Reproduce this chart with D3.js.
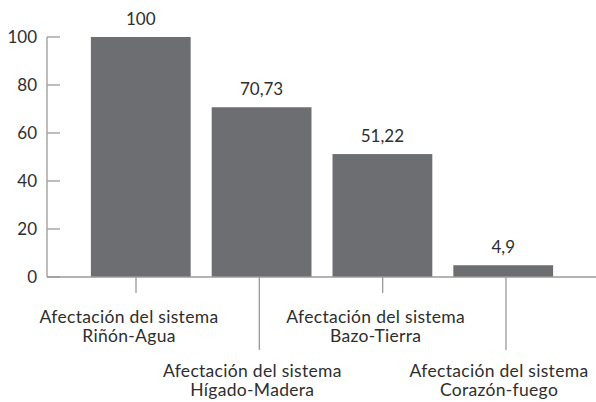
<!DOCTYPE html>
<html>
<head>
<meta charset="utf-8">
<script src="https://cdn.jsdelivr.net/npm/d3@7"></script>
<style>
  html, body { margin: 0; padding: 0; background: #fff; }
  svg text { font-family: Lato, "Open Sans", sans-serif; fill: #2e2e2e; }
</style>
</head>
<body>
<svg id="chart" width="596" height="402"></svg>
<script>
// Categories (two-line labels) and their values
const categories = [
  ["Afectación del sistema", "Riñón-Agua"],
  ["Afectación del sistema", "Hígado-Madera"],
  ["Afectación del sistema", "Bazo-Tierra"],
  ["Afectación del sistema", "Corazón-fuego"]
];
const values = [100, 70.73, 51.22, 4.9];
const valueLabels = ["100", "70,73", "51,22", "4,9"];
const yTicks = [0, 20, 40, 60, 80, 100];

const svg = d3.select("#chart");
const keys = categories.map(c => c.join(" "));

const x = d3.scaleBand().domain(keys).range([80, 564]).paddingInner(0.174).paddingOuter(0.09);
// axis tick/label positions run on a slightly wider spacing than the bars
const xTick = d3.scalePoint().domain(keys).range([136, 506]);
const y = d3.scaleLinear().domain([0, 100]).range([277, 37]);

const axisColor = "#9a9a9a";

// y axis: vertical line with ticks pointing inward
svg.append("line")
  .attr("x1", 47).attr("x2", 47).attr("y1", y(100)).attr("y2", y(0))
  .attr("stroke", axisColor).attr("stroke-width", 1.3);
svg.selectAll(".ytick").data(yTicks).enter().append("line")
  .attr("x1", 47).attr("x2", 60)
  .attr("y1", d => y(d)).attr("y2", d => y(d))
  .attr("stroke", axisColor).attr("stroke-width", 1.3);
svg.selectAll(".ylab").data(yTicks).enter().append("text")
  .attr("x", 37).attr("y", d => y(d) + 6)
  .attr("text-anchor", "end").attr("font-size", 17)
  .text(d => d);

// bars
svg.selectAll(".bar").data(values).enter().append("rect")
  .attr("x", (d, i) => x(keys[i]))
  .attr("width", x.bandwidth())
  .attr("y", d => y(d))
  .attr("height", d => y(0) - y(d))
  .attr("fill", "#6d6e71");

// x axis baseline
svg.append("line")
  .attr("x1", 47).attr("x2", 596).attr("y1", y(0)).attr("y2", y(0))
  .attr("stroke", axisColor).attr("stroke-width", 1.3);

// value labels
svg.selectAll(".val").data(values).enter().append("text")
  .attr("x", (d, i) => x(keys[i]) + x.bandwidth() / 2)
  .attr("y", d => y(d) - 12)
  .attr("text-anchor", "middle").attr("font-size", 17)
  .text((d, i) => valueLabels[i]);

// staggered category ticks and labels
const g = svg.selectAll(".cat").data(categories).enter().append("g");
g.append("line")
  .attr("x1", (d, i) => xTick(keys[i])).attr("x2", (d, i) => xTick(keys[i]))
  .attr("y1", y(0)).attr("y2", (d, i) => i % 2 === 0 ? 293 : 350)
  .attr("stroke", axisColor).attr("stroke-width", 1.3);
[0, 1].forEach(line => {
  g.append("text")
    .attr("text-anchor", "middle").attr("font-size", 17.5)
    .attr("letter-spacing", 0.3)
    .attr("x", (d, i) => xTick(keys[i]) - 7)
    .attr("y", (d, i) => (i % 2 === 0 ? 323 : 377) + line * 19)
    .text(d => d[line]);
});
</script>
</body>
</html>
